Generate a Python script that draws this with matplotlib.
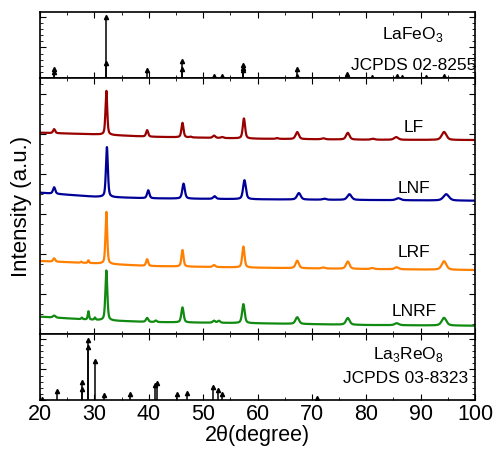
import numpy as np
import matplotlib
matplotlib.use('Agg')
from matplotlib import pyplot as plt
from matplotlib.ticker import MultipleLocator, NullFormatter

plt.rcParams['font.family'] = ['Liberation Sans', 'DejaVu Sans']
plt.rcParams['mathtext.fontset'] = 'custom'
plt.rcParams['mathtext.rm'] = 'Liberation Sans'

# reference sticks: 2theta, relative intensity
lafeo3_pos = [22.6, 22.6, 32.2, 32.2, 39.7, 46.1, 46.1, 52.0, 53.4, 57.3, 57.3, 57.3,
              67.3, 67.3, 76.5, 76.5, 81.1, 85.6, 86.5, 91.0, 94.3]
lafeo3_int = [15, 10, 100, 24, 13, 28, 14, 4, 4, 21, 16, 13,
              14, 3, 7, 4, 2, 3, 2, 2, 4]

la3reo8_pos = [20.3, 23.2, 27.7, 27.7, 28.9, 28.9, 30.1, 31.8, 36.5, 41.1, 41.5,
               45.1, 47.1, 51.8, 52.8, 53.4, 71.0]
la3reo8_int = [1, 15, 30, 18, 99, 86, 64, 8, 9, 25, 27,
               9, 12, 21, 17, 10, 4]

# measured patterns: peaks (2theta, height above background, fwhm)
lf_peaks = [(22.6, 4, 0.45), (32.2, 44, 0.38), (39.7, 6.5, 0.45), (46.2, 14.5, 0.45),
            (47.7, 0.7, 0.45), (52.0, 2.3, 0.55), (53.5, 1, 0.55), (57.5, 20, 0.5),
            (63.6, 0.8, 0.55), (67.3, 7, 0.7), (72.1, 1, 0.7), (76.6, 6.7, 0.75),
            (81.2, 1, 0.8), (85.5, 2.7, 0.9), (94.3, 8, 1.0)]
lnf_peaks = [(22.6, 6.5, 0.5), (32.3, 50, 0.42), (39.9, 8, 0.5), (46.4, 15, 0.55),
             (52.1, 2.7, 0.6), (57.6, 19, 0.6), (67.6, 6.5, 0.8), (72.3, 1, 0.8),
             (76.9, 5.7, 0.9), (85.9, 2, 1.0), (94.7, 6.3, 1.2)]
lrf_peaks = [(22.6, 3.3, 0.45), (27.6, 1, 0.3), (28.9, 2.7, 0.28), (32.2, 52, 0.38),
             (39.7, 6.7, 0.45), (46.2, 16.5, 0.45), (52.0, 2, 0.55), (57.4, 21, 0.5),
             (67.3, 7.5, 0.7), (72.1, 1, 0.7), (76.6, 7.3, 0.75), (81.1, 1, 0.8),
             (85.6, 2, 0.9), (94.3, 8.5, 1.0)]
lnrf_peaks = [(22.6, 2, 0.55), (27.7, 1.5, 0.3), (28.9, 8.3, 0.28), (30.1, 2.3, 0.3),
              (32.2, 50, 0.42), (39.7, 4, 0.5), (41.3, 1.5, 0.45), (46.2, 15, 0.5),
              (52.0, 2, 0.55), (52.9, 2, 0.55), (57.4, 19, 0.55), (67.3, 6.7, 0.75),
              (76.6, 6.7, 0.8), (85.6, 2, 0.9), (94.3, 7.7, 1.0)]

# background anchors (2theta, level) for each stacked pattern
bg_x = [20, 30, 40, 60, 80, 100]
lf_bg = [201.3, 199.7, 197.3, 195.3, 194.3, 194.0]
lnf_bg = [141.3, 137.3, 135.7, 134.7, 134.0, 133.3]
lrf_bg = [73.0, 70.7, 68.0, 66.3, 65.0, 64.0]
lnrf_bg = [17.3, 14.0, 12.0, 10.7, 9.0, 8.3]

names = ['LF', 'LNF', 'LRF', 'LNRF']
colors = ['#990000', '#000099', '#ff8000', '#108a10']
label_y = [207, 146, 82, 23]


def pattern(x, peaks, bg):
    y = np.interp(x, bg_x, bg)
    for pos, h, w in peaks:
        hw = w / 2
        lor = 1 / (1 + ((x - pos) / hw) ** 2)
        gau = np.exp(-np.log(2) * ((x - pos) / hw) ** 2)
        y = y + h * (0.5 * lor + 0.5 * gau)
    return y


def draw_sticks(ax, pos, inten):
    ax.vlines(pos, 0, inten, color='k', lw=1.1)
    ax.plot(pos, inten, '^', color='k', ms=3, ls='none')


fig = plt.figure(figsize=(4.94, 4.51), dpi=100)
left, width = 0.081, 0.8806
ax_top = fig.add_axes([left, 0.827, width, 0.1463])
ax_mid = fig.add_axes([left, 0.2594, width, 0.5676])
ax_bot = fig.add_axes([left, 0.1131, width, 0.1463])

draw_sticks(ax_top, lafeo3_pos, lafeo3_int)
draw_sticks(ax_bot, la3reo8_pos, la3reo8_int)

x = np.arange(20, 100.001, 0.02)
all_peaks = [lf_peaks, lnf_peaks, lrf_peaks, lnrf_peaks]
all_bg = [lf_bg, lnf_bg, lrf_bg, lnrf_bg]
for name, peaks, bg, c, ly in zip(names, all_peaks, all_bg, colors, label_y):
    ax_mid.plot(x, pattern(x, peaks, bg), color=c, lw=1.6)
    ax_mid.text(88.8, ly, name, fontsize=12.5, ha='center', va='center')

ax_top.text(88.6, 72, 'LaFeO$_3$', fontsize=12.5, ha='center', va='center')
ax_top.text(88.7, 20, 'JCPDS 02-8255', fontsize=12.5, ha='center', va='center')
ax_bot.text(87.8, 75, 'La$_3$ReO$_8$', fontsize=12.5, ha='center', va='center')
ax_bot.text(87.3, 35, 'JCPDS 03-8323', fontsize=12.5, ha='center', va='center')

for ax in (ax_top, ax_mid, ax_bot):
    ax.set_xlim(20, 100)
    ax.xaxis.set_major_locator(MultipleLocator(10))
    ax.xaxis.set_minor_locator(MultipleLocator(5))
    ax.tick_params(which='both', direction='in', top=True, right=True, labelleft=False)
    ax.tick_params(which='major', length=4)
    ax.tick_params(which='minor', length=2)
    for s in ax.spines.values():
        s.set_linewidth(1.2)

for ax in (ax_top, ax_bot):
    ax.set_ylim(0, 108)
    ax.yaxis.set_major_locator(MultipleLocator(50))
    ax.yaxis.set_minor_locator(MultipleLocator(10))

ax_mid.set_ylim(0, 256)
ax_mid.yaxis.set_major_locator(MultipleLocator(40))
ax_mid.yaxis.set_minor_locator(MultipleLocator(10))

ax_top.xaxis.set_major_formatter(NullFormatter())
ax_mid.xaxis.set_major_formatter(NullFormatter())
ax_bot.tick_params(axis='x', labelsize=15.5, pad=3)
ax_bot.set_xlabel('2θ(degree)', fontsize=15.5, labelpad=0)
ax_mid.set_ylabel('Intensity (a.u.)', fontsize=16, labelpad=6)

fig.savefig('out.png', dpi=100)
